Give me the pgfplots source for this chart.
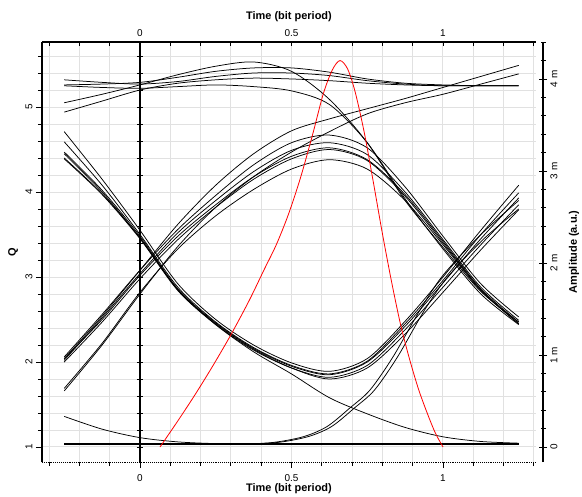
\documentclass[border=0pt]{standalone}
\usepackage{fontspec}
\setmainfont{Liberation Sans}
\usepackage{pgfplots}
\usepackage{pgfplotstable}
\pgfplotsset{compat=1.18}

\definecolor{gridgray}{RGB}{225,225,225}

% eye traces, Q values sampled every 1/8 bit
\pgfplotstableread{
t      La    Ld    F1    F2    F3    D1    D2    A0    A1    A2    A3    A4    B0    B1    B2    B3    B4    C     E
-0.25  5.05  5.25  5.32  5.26  4.94  2.04  1.66  2.04  2.06  2.02  2.00  1.69  4.47  4.71  4.59  4.39  4.40  4.45  1.36
-0.125 5.15  5.23  5.29  5.27  5.07  2.54  2.20  2.50  2.56  2.52  2.47  2.22  4.02  4.15  4.08  3.97  3.98  4.00  1.21
0      5.26  5.22  5.27  5.29  5.20  3.08  2.80  3.02  3.08  3.04  2.98  2.82  3.48  3.55  3.50  3.45  3.46  3.46  1.11
0.125  5.38  5.24  5.30  5.35  5.28  3.62  3.36  3.48  3.56  3.52  3.44  3.33  2.86  2.92  2.88  2.84  2.85  2.85  1.06
0.25   5.48  5.26  5.36  5.42  5.32  4.08  3.82  3.85  3.96  3.90  3.82  3.72  2.46  2.50  2.47  2.44  2.45  2.44  1.04
0.375  5.53  5.24  5.40  5.46  5.34  4.45  4.18  4.18  4.32  4.24  4.15  4.03  2.16  2.20  2.17  2.14  2.15  2.12  1.035
0.5    5.42  5.19  5.40  5.46  5.33  4.72  4.47  4.42  4.58  4.49  4.39  4.27  1.95  1.99  1.96  1.93  1.93  1.86  1.035
0.625  5.09  5.03  5.37  5.41  5.31  4.86  4.71  4.52  4.67  4.58  4.50  4.38  1.85  1.89  1.86  1.82  1.80  1.58  1.035
0.75   4.58  4.58  5.31  5.33  5.28  4.98  4.92  4.38  4.52  4.44  4.37  4.27  2.00  2.04  2.01  1.96  1.93  1.39  1.035
0.875  3.90  3.92  5.27  5.28  5.26  5.10  5.05  3.97  4.06  4.00  3.95  3.90  2.42  2.48  2.45  2.38  2.33  1.23  1.035
1      3.35  3.33  5.25  5.26  5.25  5.23  5.15  3.42  3.48  3.44  3.40  3.38  2.93  3.00  2.96  2.88  2.82  1.12  1.035
1.125  2.83  2.80  5.25  5.25  5.25  5.36  5.27  2.86  2.92  2.88  2.85  2.84  3.45  3.55  3.50  3.38  3.32  1.065 1.035
1.25   2.47  2.44  5.25  5.25  5.25  5.49  5.39  2.47  2.53  2.49  2.45  2.45  3.93  4.08  3.99  3.85  3.79  1.045 1.035
}\eyetable

\pgfplotsset{
  eyebase/.style={width=494bp, height=420bp, scale only axis, at={(0,0)}, anchor=south west,
    xmin=-0.3234, xmax=1.307, ymin=0.8235, ymax=5.765},
  trace/.style={black, line width=0.75bp, smooth, mark=none},
  minorx/.style={minor xtick={-0.3,-0.2,-0.1,0.1,0.2,0.3,0.4,0.6,0.7,0.8,0.9,1.1,1.2,1.3}},
  minorq/.style={minor ytick={1.2,1.4,1.6,1.8,2.2,2.4,2.6,2.8,3.2,3.4,3.6,3.8,4.2,4.4,4.6,4.8,5.2,5.4,5.6}},
  tickfont/.style={ticklabel style={font=\fontsize{10}{12}\selectfont}},
  labfont/.style={label style={font=\fontsize{11}{13}\selectfont\bfseries}},
}

\begin{document}
\begin{tikzpicture}
% main axis: Q (left), time (bottom, dotted line), grid and eye traces
\begin{axis}[eyebase, minorx, minorq, tickfont, labfont,
  axis x line*=bottom, axis y line*=left,
  x axis line style={-, densely dotted, line width=0.9bp},
  y axis line style={-, line width=1.1bp},
  xtick={0,0.5,1}, xticklabels={0,0.5,1},
  ytick={1,2,3,4,5}, yticklabels={1,2,3,4,5},
  grid=both,
  major grid style={gridgray, line width=1bp},
  minor grid style={gridgray, line width=1bp},
  tick align=outside, major tick length=6bp, minor tick length=4bp,
  tick style={black, line width=0.8bp},
  yticklabel style={rotate=90, anchor=south},
  xticklabel style={yshift=-3bp},
  xlabel={Time (bit period)}, ylabel={Q},
  xlabel style={at={(axis description cs:0.5,-0.0643)}, anchor=center},
  ylabel style={at={(axis description cs:-0.0587,0.5)}, anchor=center},
]
\foreach \c in {La,Ld,F1,F2,F3,D1,D2,A0,A1,A2,A3,A4,B0,B1,B2,B3,B4,C,E}{
  \addplot[trace] table[x=t, y=\c] {\eyetable};
}
% 0-0-1 transitions
\addplot[trace] coordinates {(-0.25,1.035) (0.1,1.035) (0.3,1.036) (0.43,1.05) (0.538,1.12) (0.617,1.24) (0.693,1.46) (0.759,1.67) (0.835,2.06) (0.924,2.61) (1.0,3.02) (1.125,3.5) (1.25,3.9)};
\addplot[trace] coordinates {(-0.25,1.035) (0.1,1.035) (0.3,1.036) (0.445,1.05) (0.553,1.12) (0.632,1.24) (0.708,1.46) (0.774,1.67) (0.85,2.06) (0.939,2.61) (1.015,3.0) (1.135,3.45) (1.25,3.8)};
% zero rail
\addplot[black, line width=1.6bp] coordinates {(-0.25,1.035) (1.25,1.035)};
\end{axis}

% top time axis
\begin{axis}[eyebase, minorx, tickfont, labfont,
  axis x line*=top, axis y line=none,
  x axis line style={-, line width=1.1bp},
  xtick={0,0.5,1}, xticklabels={0,0.5,1},
  tick align=inside, major tick length=4bp, minor tick length=4bp,
  tick style={black, line width=0.8bp},
  xticklabel style={yshift=2bp},
  xlabel={Time (bit period)},
  xlabel style={at={(axis description cs:0.5,1.0595)}, anchor=center},
]
\end{axis}

% vertical line at t = 0 with ticks
\begin{axis}[eyebase, minorq,
  axis x line=none, axis y line=center,
  y axis line style={-, line width=1.3bp},
  ytick={1,2,3,4,5}, yticklabels={},
  tick align=center, major tick length=6bp, minor tick length=6bp,
  tick style={black, line width=0.8bp},
]
\end{axis}

% right amplitude axis with the pulse
\begin{axis}[width=501bp, height=420bp, scale only axis, at={(0,0)}, anchor=south west,
  tickfont, labfont,
  xmin=-0.3234, xmax=1.330, ymin=-0.163, ymax=4.402,
  axis x line=none, axis y line*=right,
  y axis line style={-, line width=1.3bp},
  ytick={0,1,2,3,4}, yticklabels={0,1 m,2 m,3 m,4 m},
  minor ytick={0.2,0.4,0.6,0.8,1.2,1.4,1.6,1.8,2.2,2.4,2.6,2.8,3.2,3.4,3.6,3.8,4.2,4.4},
  tick align=center, major tick length=8bp, minor tick length=5bp,
  tick style={black, line width=0.8bp},
  yticklabel style={rotate=90, anchor=north},
  ylabel={Amplitude (a.u.)},
  ylabel style={at={(axis description cs:1.062,0.5)}, anchor=center},
]
\addplot[red, line width=0.8bp, smooth, mark=none] coordinates {
  (0.066,0) (0.12,0.26) (0.18,0.56) (0.24,0.88) (0.30,1.22) (0.36,1.59)
  (0.41,1.93) (0.45,2.20) (0.49,2.53) (0.53,2.93) (0.57,3.40) (0.605,3.84)
  (0.635,4.10) (0.66,4.20) (0.685,4.11) (0.71,3.86) (0.74,3.42) (0.77,2.88)
  (0.80,2.32) (0.83,1.80) (0.86,1.33) (0.89,0.95) (0.92,0.62) (0.95,0.35)
  (0.975,0.15) (1.0,0)};
\end{axis}

\pgfresetboundingbox
\path (-42bp,-35bp) rectangle (540bp,462bp);
\end{tikzpicture}
\end{document}
